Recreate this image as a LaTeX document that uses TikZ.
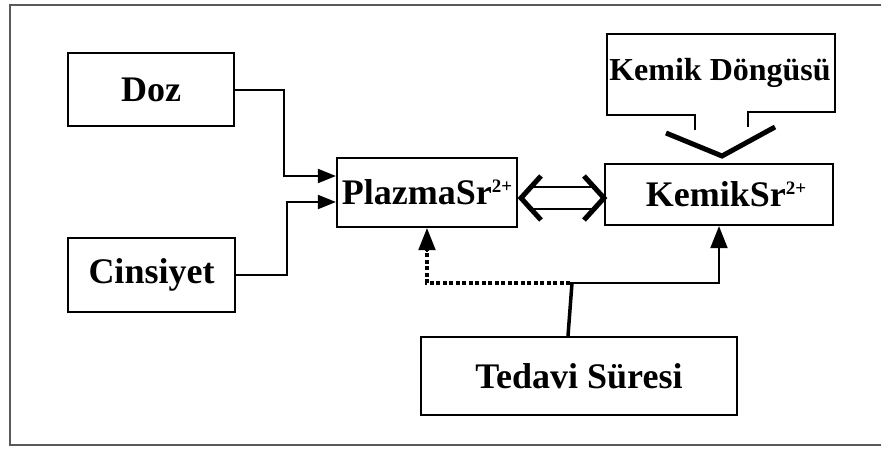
\documentclass[tikz,border=0pt]{standalone}
\usepackage{fontspec}
\setmainfont{Liberation Serif}
\usetikzlibrary{arrows.meta}
\begin{document}
\begin{tikzpicture}[x=1pt,y=-1pt,
  box/.style={draw,line width=2.2pt,inner sep=0pt,font=\fontsize{36}{40}\selectfont\bfseries},
  conn/.style={line width=2pt},
  arr/.style={line width=2pt,-{Triangle[length=18pt,width=14pt]}},
  varr/.style={line width=2pt,-{Triangle[length=22pt,width=17pt]}}]
\useasboundingbox (0,0) rectangle (881,448);
% outer frame
\draw[line width=2.5pt,black!65] (881,5) -- (10,5) -- (10,445) -- (881,445);
% boxes
\node[box,minimum width=166pt,minimum height=73pt] (doz) at (151,89.5) {Doz};
\node[box,minimum width=167pt,minimum height=74pt] (cins) at (151.5,275) {Cinsiyet};
\node[box,minimum width=180pt,minimum height=69pt] (plazma) at (427,192.5)
  {PlazmaSr\raisebox{12pt}{\fontsize{19}{19}\selectfont 2+}};
\node[box,minimum width=228pt,minimum height=61pt] (kemik) at (719,194.5)
  {\hspace{14pt}KemikSr\raisebox{12pt}{\fontsize{19}{19}\selectfont 2+}};
\node[box,minimum width=316pt,minimum height=78pt] (tedavi) at (579,376) {Tedavi Süresi};
% Kemik Dongusu callout
\node[inner sep=0pt,font=\fontsize{32}{36}\selectfont\bfseries] (dongu) at (720,73) {Kemik Döngüsü};
\draw[line width=2.2pt] (695,130) -- (695,115) -- (607,115) -- (607,34) -- (835,34) -- (835,112) -- (748,112) -- (748,127);
\draw[line width=5pt] (666,133) -- (722,156) -- (775,127);
% inputs to plasma
\draw[arr] (doz.east) -- (284,89.5) -- (284,176) -- (plazma.west |- 284,176);
\draw[arr] (cins.east) -- (287,275) -- (287,202) -- (plazma.west |- 287,202);
% double arrow
\draw[line width=2pt] (528,187) -- (597,187) (528,209) -- (597,209);
\draw[line width=5pt,line join=miter] (541,176) -- (521,198) -- (541,220);
\draw[line width=5pt,line join=miter] (584,176) -- (604,198) -- (584,220);
% treatment duration
\coordinate (j) at (570,283);
\draw[line width=3.5pt] (tedavi.north -| 568,0) -- (572,283);
\draw[varr] (j) -| (kemik.south);
\draw[line width=3.2pt,dash pattern=on 4pt off 2.5pt] (j) -- (427,283) -- (427,250);
\draw[varr] (427,252) -- (plazma.south);
\end{tikzpicture}
\end{document}
